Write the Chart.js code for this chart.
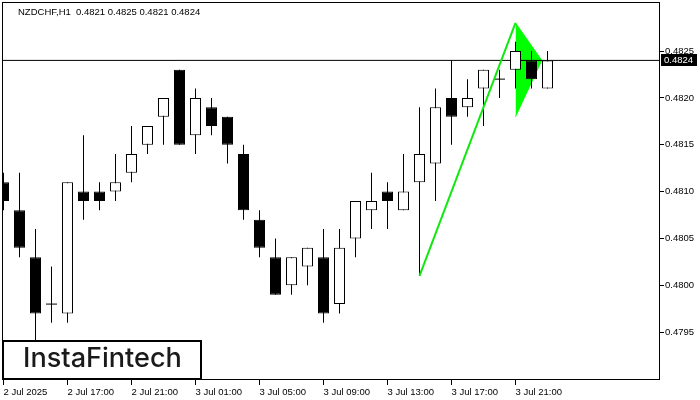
<!DOCTYPE html>
<html>
<head>
<meta charset="utf-8">
<script src="https://cdn.jsdelivr.net/npm/chart.js@4/dist/chart.umd.min.js"></script>
<style>
  html, body { margin: 0; padding: 0; background: #fff; }
  canvas { display: block; }
</style>
</head>
<body>
<canvas id="chart" width="700" height="400"></canvas>
<script>
// NZDCHF H1 candles, 2 Jul 13:00 .. 3 Jul 23:00 (one per hour)
const opens  = [0.4811, 0.4808, 0.4803, 0.4798, 0.4797, 0.4810, 0.4810, 0.4810, 0.4812, 0.4815,
                0.4818, 0.4823, 0.4816, 0.4819, 0.4818, 0.4814, 0.4807, 0.4803, 0.4800, 0.4802,
                0.4803, 0.4798, 0.4805, 0.4808, 0.4810, 0.4808, 0.4811, 0.4813, 0.4820, 0.4819,
                0.4821, 0.4822, 0.4823, 0.4824, 0.4821];
const highs  = [0.4812, 0.4812, 0.4806, 0.4802, 0.4811, 0.4816, 0.4811, 0.4814, 0.4817, 0.4817,
                0.4820, 0.4823, 0.4821, 0.4820, 0.4818, 0.4815, 0.4808, 0.4805, 0.4803, 0.4804,
                0.4806, 0.4806, 0.4809, 0.4812, 0.4811, 0.4814, 0.4819, 0.4821, 0.4824, 0.4822,
                0.4823, 0.4823, 0.4826, 0.4825, 0.4825];
const lows   = [0.4808, 0.4803, 0.4794, 0.4796, 0.4796, 0.4807, 0.4808, 0.4809, 0.4811, 0.4814,
                0.4815, 0.4815, 0.4814, 0.4816, 0.4813, 0.4807, 0.4803, 0.4799, 0.4799, 0.4800,
                0.4796, 0.4797, 0.4803, 0.4806, 0.4806, 0.4808, 0.4801, 0.4809, 0.4815, 0.4818,
                0.4817, 0.4820, 0.4821, 0.4821, 0.4821];
const closes = [0.4809, 0.4804, 0.4797, 0.4798, 0.4811, 0.4809, 0.4809, 0.4811, 0.4814, 0.4817,
                0.4820, 0.4815, 0.4820, 0.4817, 0.4815, 0.4808, 0.4804, 0.4799, 0.4803, 0.4804,
                0.4797, 0.4804, 0.4809, 0.4809, 0.4809, 0.4810, 0.4814, 0.4819, 0.4818, 0.4820,
                0.4823, 0.4822, 0.4825, 0.4822, 0.4824];

const xTickIdx    = [0, 4, 8, 12, 16, 20, 24, 28, 32];
const xTickLabels = ['2 Jul 2025', '2 Jul 17:00', '2 Jul 21:00', '3 Jul 01:00', '3 Jul 05:00',
                     '3 Jul 09:00', '3 Jul 13:00', '3 Jul 17:00', '3 Jul 21:00'];
const yTicks = [0.4795, 0.4800, 0.4805, 0.4810, 0.4815, 0.4820, 0.4825];

const title = 'NZDCHF,H1  0.4821 0.4825 0.4821 0.4824';
const lastPrice = 0.4824;

// bullish pennant: pole from the low of bar 26, flag right after it
const poleX = [26, 32];
const poleY = [0.4801, 0.4828];
const flagTopX = [32, 33.64];
const flagTopY = [0.4828, 0.4824];
const flagBotX = [32, 33.64];
const flagBotY = [0.4818, 0.4824];

const xMin = -0.09375, xMax = 41.03125;
const yMin = 0.47899, yMax = 0.483023;

const FONT = '"Liberation Sans", Arial, sans-serif';

const idx = opens.map((_, i) => i);
const wicks = idx.map(i => ({ x: i, y: [lows[i], highs[i]] }));
const bodies = idx.filter(i => opens[i] !== closes[i]).map(i => ({ x: i, y: [opens[i], closes[i]] }));
const dojis = idx.filter(i => opens[i] === closes[i]).map(i => ({ x: i, y: opens[i] }));
const pts = (xs, ys) => xs.map((x, i) => ({ x, y: ys[i] }));

const overlay = {
  id: 'overlay',
  afterDraw(chart) {
    const { ctx, chartArea: a, scales: { y } } = chart;
    ctx.save();
    // frame
    ctx.strokeStyle = '#000';
    ctx.lineWidth = 1;
    ctx.strokeRect(a.left + 0.5, a.top + 0.5, a.right - a.left - 1, a.bottom - a.top - 1);

    // symbol line
    ctx.font = '9.5px ' + FONT;
    ctx.fillStyle = '#000';
    ctx.textBaseline = 'middle';
    ctx.textAlign = 'left';
    ctx.fillText(title, 18, 12);

    // last price tag
    const py = Math.round(y.getPixelForValue(lastPrice));
    ctx.fillRect(a.right + 1, py - 6, 36, 12);
    ctx.fillStyle = '#fff';
    ctx.fillText(lastPrice.toFixed(4), a.right + 4, py);

    // logo box
    ctx.fillStyle = '#fff';
    ctx.fillRect(3, 341, 198, 38);
    ctx.lineWidth = 2;
    ctx.strokeStyle = '#000';
    ctx.strokeRect(3, 341, 198, 38);
    let size = 26;
    ctx.font = '500 ' + size + 'px Inter, "Open Sans", sans-serif';
    const w = ctx.measureText('InstaFintech').width;
    size = size * 159 / w;
    ctx.font = '500 ' + size.toFixed(1) + 'px Inter, "Open Sans", sans-serif';
    ctx.fillStyle = '#1a1a1a';
    ctx.textBaseline = 'alphabetic';
    ctx.fillText('InstaFintech', 23, 367);
    ctx.restore();
  }
};

new Chart(document.getElementById('chart'), {
  type: 'bar',
  data: {
    datasets: [
      { type: 'line', data: pts(poleX, poleY), borderColor: '#10e810', borderWidth: 2,
        pointRadius: 0, tension: 0, fill: false, order: 0, clip: 0 },
      { type: 'line', data: dojis, showLine: false, pointStyle: 'line', pointRadius: 5.5,
        borderColor: '#000', borderWidth: 1, order: 1, clip: 0 },
      { data: bodies, grouped: false, barThickness: 11, borderWidth: 1, borderColor: '#000',
        borderSkipped: false, inflateAmount: 0, order: 2, clip: 0,
        backgroundColor: c => (c.raw && c.raw.y[1] > c.raw.y[0]) ? '#fff' : '#000' },
      { data: wicks, grouped: false, barThickness: 1, borderWidth: 0, backgroundColor: '#000',
        inflateAmount: 0, order: 3, clip: 0 },
      { type: 'line', data: pts([xMin, xMax], [lastPrice, lastPrice]), borderColor: '#000',
        borderWidth: 1, pointRadius: 0, order: 4, clip: 0 },
      { type: 'line', data: pts(flagTopX, flagTopY), borderColor: '#00ff00', borderWidth: 1,
        backgroundColor: '#00ff00', fill: '+1', pointRadius: 0, tension: 0, order: 5, clip: 0 },
      { type: 'line', data: pts(flagBotX, flagBotY), borderColor: '#00ff00', borderWidth: 1,
        pointRadius: 0, tension: 0, fill: false, order: 6, clip: 0 }
    ]
  },
  options: {
    responsive: false,
    animation: false,
    events: [],
    layout: { padding: { left: 2, top: 2, right: 0, bottom: 0 }, autoPadding: false },
    plugins: { legend: { display: false }, tooltip: { enabled: false } },
    scales: {
      x: {
        type: 'linear', min: xMin, max: xMax, offset: false,
        grid: { display: true, offset: false, drawOnChartArea: false, drawTicks: true,
                tickLength: 5, color: '#000' },
        border: { display: false },
        afterBuildTicks: s => { s.ticks = xTickIdx.map(v => ({ value: v })); },
        afterFit: s => { s.height = 20; s.paddingLeft = 0; s.paddingRight = 0; },
        ticks: { align: 'start', autoSkip: false, maxRotation: 0, padding: 2, color: '#000',
                 font: { family: FONT, size: 9.5 },
                 callback: (v, i) => xTickLabels[i] }
      },
      y: {
        type: 'linear', position: 'right', min: yMin, max: yMax, beginAtZero: false,
        grid: { display: true, drawOnChartArea: false, drawTicks: true, tickLength: 4, color: '#000' },
        border: { display: false },
        afterBuildTicks: s => { s.ticks = yTicks.map(v => ({ value: v })); },
        afterFit: s => { s.width = 40; s.paddingTop = 0; s.paddingBottom = 0; },
        ticks: { padding: 1, color: '#000', font: { family: FONT, size: 9.5 },
                 callback: v => v.toFixed(4) }
      }
    }
  },
  plugins: [overlay]
});
</script>
</body>
</html>
